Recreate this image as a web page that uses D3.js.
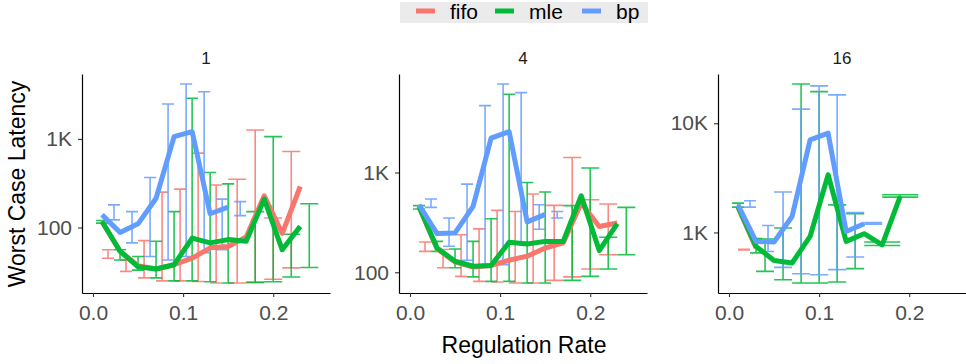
<!DOCTYPE html>
<html>
<head>
<meta charset="utf-8">
<script src="https://cdn.jsdelivr.net/npm/d3@7"></script>
<style>
  html, body { margin: 0; padding: 0; background: #ffffff; }
  svg { display: block; }
  text { font-family: "Liberation Sans", Arial, Helvetica, sans-serif; }
</style>
</head>
<body>
<svg id="chart" width="966" height="364"></svg>
<script>
// ---------------- DATA ----------------
const rates = [0.01, 0.03, 0.05, 0.07, 0.09, 0.11, 0.13, 0.15, 0.17, 0.19, 0.21, 0.23];
const facets = ["1", "4", "16"];
const seriesNames = ["fifo", "mle", "bp"];
const seriesColors = ["#F8766D", "#00BA38", "#619CFF"];
const xTickValues = [0.0, 0.1, 0.2];
const yTickValues = [100, 1000, 10000];
const yTickLabels = ["100", "1K", "10K"];

// per facet (1, 4, 16), one value per regulation rate
const fifoMean = [
  [117, 54, 37, 34, 38, 45, 59, 61, 78, 228, 86, 290],
  [450, 172, 127, 113, 117, 132, 145, 175, 197, 494, 288, 312],
  [1700, 720, null, null, null, null, null, null, null, null, null, null]
];
const fifoLow = [
  [null, 45, 32, 27, 25, 25, 24.6, 23.6, 23.6, 24, 26, 35],
  [null, 162, 111, 91, 81, 80, 78, 78, 83, 90, 108, 150],
  [null, 690, null, null, null, null, null, null, null, null, null, null]
];
const fifoHigh = [
  [null, 56, 43, 71, 251, 271, 690, 302, 351, 1262, 128, 720],
  [null, 201, 169, 238, 272, 417, 407, 608, 468, 1413, 533, 483],
  [null, 700, null, null, null, null, null, null, null, null, null, null]
];

const mleMean = [
  [117, 54, 36, 34, 38, 76, 67, 73, 70, 209, 56, 103],
  [457, 175, 129, 115, 117, 200, 192, 204, 204, 585, 165, 307],
  [1730, 745, 554, 525, 919, 3376, 828, 973, 771, 2136, null, null]
];
const mleLow = [
  [112, 43, 33, 27, 25, 25, 24.4, 23.6, 24, 24.4, 27.6, 35.4],
  [430, 162, 111, 90, 81, 81, 78, 78, 83, 91, 108, 150],
  [1706, 650, 440, 369, 344, 344, 352, 466, 760, 2108, null, null]
];
const mleHigh = [
  [120, 56, 47, 70, 151, 2877, 417, 311, 151, 1061, 84, 185],
  [465, 204, 171, 204, 344, 6080, 794, 637, 465, 1107, 224, 447],
  [1857, 880, 870, 1097, 22900, 19500, 1790, 1483, 817, 2213, null, null]
];

const bpMean = [
  [139, 88, 110, 214, 1060, 1210, 143, 170, null, null, null, null],
  [475, 244, 248, 457, 2208, 2570, 320, 380, null, null, null, null],
  [1792, 828, 817, 1400, 7050, 8110, 1021, 1200, null, null, null, null]
];
const bpLow = [
  [122, 67, 47, 43, 47, 52, 56, 136, null, null, null, null],
  [447, 182, 132, 119, 119, 200, 270, 350, null, null, null, null],
  [1706, 670, 479, 419, 410, 457, 596, 1190, null, null, null, null]
];
const bpHigh = [
  [180, 151, 366, 2480, 4170, 3410, 209, 196, null, null, null, null],
  [542, 350, 765, 4677, 7710, 6310, 475, 407, null, null, null, null],
  [1950, 1159, 2343, 13460, 21970, 18200, 1524, 1230, null, null, null, null]
];

const means = [fifoMean, mleMean, bpMean];
const lows = [fifoLow, mleLow, bpLow];
const highs = [fifoHigh, mleHigh, bpHigh];

// ---------------- LAYOUT ----------------
const svg = d3.select("#chart");
const panelLeft = [82, 399, 718];
const panelWidth = 248;
const panelTop = 74, panelBottom = 293;
const dodgeWidth = 0.04;
const fontTick = 21;

const x = d3.scaleLinear().domain([-0.0122, 0.263]);

facets.forEach((facet, p) => {
  const left = panelLeft[p];
  const xs = x.copy().range([left, left + panelWidth]);

  // y domain: data extent in log space, expanded 5%
  const vals = [];
  for (let s = 0; s < 3; s++) {
    [means[s][p], lows[s][p], highs[s][p]].forEach(arr => arr.forEach(v => { if (v != null) vals.push(v); }));
  }
  const ext = d3.extent(vals).map(Math.log10);
  const pad = (ext[1] - ext[0]) * 0.05;
  const ys = d3.scaleLog()
    .domain([Math.pow(10, ext[0] - pad), Math.pow(10, ext[1] + pad)])
    .range([panelBottom, panelTop]);

  const g = svg.append("g");

  // error bars (dodged)
  for (let s = 0; s < 3; s++) {
    const bars = [];
    rates.forEach((r, i) => {
      const lo = lows[s][p][i], hi = highs[s][p][i];
      const present = [0, 1, 2].filter(k => means[k][p][i] != null);
      const n = present.length;
      const k = present.indexOf(s);
      if (lo == null || hi == null || k < 0) return;
      const ew = dodgeWidth / n;
      const cx = r - dodgeWidth / 2 + (k + 0.5) * ew;
      bars.push({ cx, ew, lo, hi });
    });
    const eg = g.append("g")
      .attr("stroke", seriesColors[s])
      .attr("stroke-width", 1.6)
      .attr("stroke-opacity", 0.85)
      .attr("fill", "none");
    bars.forEach(b => {
      const x0 = xs(b.cx - b.ew / 2), x1 = xs(b.cx + b.ew / 2), xc = xs(b.cx);
      eg.append("path")
        .attr("d", `M${x0},${ys(b.hi)}H${x1}M${xc},${ys(b.hi)}V${ys(b.lo)}M${x0},${ys(b.lo)}H${x1}`);
    });
  }

  // lines
  for (let s = 0; s < 3; s++) {
    const pts = rates.map((r, i) => ({ r, v: means[s][p][i] })).filter(d => d.v != null);
    const line = d3.line().x(d => xs(d.r)).y(d => ys(d.v));
    g.append("path")
      .datum(pts)
      .attr("d", line)
      .attr("fill", "none")
      .attr("stroke", seriesColors[s])
      .attr("stroke-width", 5)
      .attr("stroke-linejoin", "round")
      .attr("stroke-linecap", "butt");
  }

  // axes
  const [dmin, dmax] = ys.domain();
  const tv = yTickValues.filter(v => v >= dmin && v <= dmax);
  const yAxis = d3.axisLeft(ys)
    .tickValues(tv)
    .tickFormat(v => yTickLabels[yTickValues.indexOf(v)])
    .tickSize(4).tickSizeOuter(0).tickPadding(6);
  const ya = g.append("g").attr("transform", `translate(${left},0)`).call(yAxis);

  const xAxis = d3.axisBottom(xs)
    .tickValues(xTickValues)
    .tickFormat(d3.format(".1f"))
    .tickSize(4).tickSizeOuter(0).tickPadding(8);
  const xa = g.append("g").attr("transform", `translate(0,${panelBottom})`).call(xAxis);

  [ya, xa].forEach(a => {
    a.select(".domain").attr("stroke", "#000").attr("stroke-width", 1.2);
    a.selectAll(".tick line").attr("stroke", "#333").attr("stroke-width", 1.1);
    a.selectAll(".tick text")
      .attr("fill", "#4D4D4D")
      .style("font-size", fontTick + "px")
      .style("font-family", '"Liberation Sans", Arial, sans-serif');
  });

  // strip label
  svg.append("text")
    .attr("x", left + panelWidth / 2)
    .attr("y", 64)
    .attr("text-anchor", "middle")
    .attr("fill", "#1A1A1A")
    .style("font-size", "17px")
    .text(facet);
});

// axis titles
svg.append("text")
  .attr("x", 524).attr("y", 353)
  .attr("text-anchor", "middle")
  .attr("fill", "#000")
  .style("font-size", "23px")
  .text("Regulation Rate");

svg.append("text")
  .attr("transform", "translate(25,184) rotate(-90)")
  .attr("text-anchor", "middle")
  .attr("fill", "#000")
  .style("font-size", "23px")
  .text("Worst Case Latency");

// legend
const legend = svg.append("g");
legend.append("rect")
  .attr("x", 400).attr("y", 2).attr("width", 248).attr("height", 21)
  .attr("fill", "#EBEBEB");
const keyX = [416, 495, 582];
seriesNames.forEach((name, s) => {
  legend.append("line")
    .attr("x1", keyX[s]).attr("x2", keyX[s] + 19)
    .attr("y1", 11).attr("y2", 11)
    .attr("stroke", seriesColors[s])
    .attr("stroke-width", 5);
  legend.append("text")
    .attr("x", keyX[s] + 34).attr("y", 19)
    .attr("fill", "#000")
    .style("font-size", "21px")
    .text(name);
});
</script>
</body>
</html>
